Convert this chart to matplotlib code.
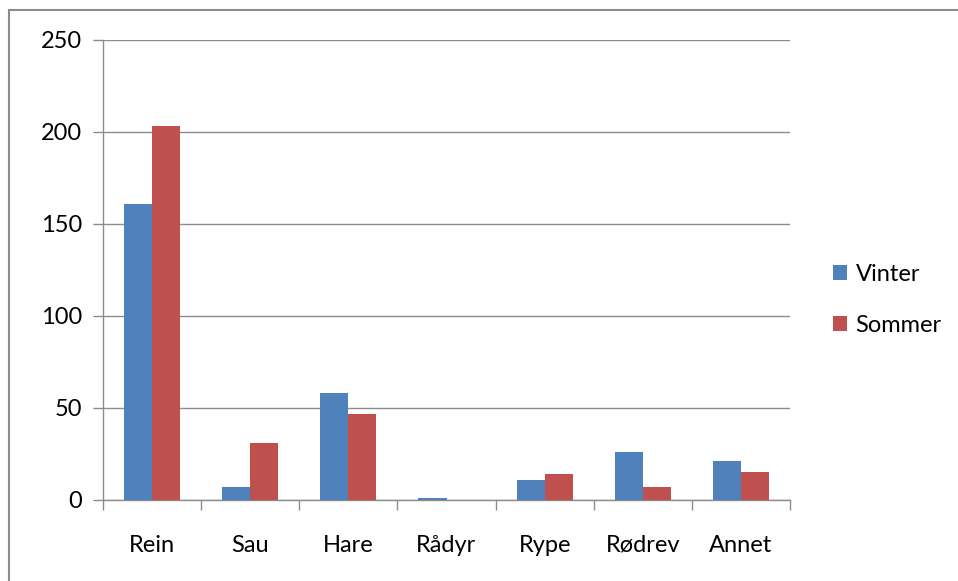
import numpy as np
import matplotlib
matplotlib.use("Agg")
import matplotlib.pyplot as plt
from matplotlib.patches import Rectangle

# Data
kategorier = ["Rein", "Sau", "Hare", "Rådyr", "Rype", "Rødrev", "Annet"]
vinter = [161, 7, 58, 1, 11, 26, 21]
sommer = [203, 31, 47, 0, 14, 7, 15]
y_ticks = [0, 50, 100, 150, 200, 250]

plt.rcParams['font.family'] = ['Lato', 'DejaVu Sans']
fs = 17

fig = plt.figure(figsize=(9.58, 5.81), dpi=100)
ax = fig.add_axes([103 / 958, 1 - 500 / 581, 687 / 958, 460 / 581])

# Outer chart border (right and bottom edges fall outside the picture)
fig.patches.append(Rectangle((9 / 958, -0.05), 1.1, 1.05 - 10 / 581, transform=fig.transFigure,
                             fill=False, edgecolor="#8c8c8c", linewidth=1.5))

x = np.arange(len(kategorier))
w = 1 / 3.5  # Excel style gap width 150%
ax.bar(x - w / 2, vinter, w, color="#4F81BD", label="Vinter", zorder=3)
ax.bar(x + w / 2, sommer, w, color="#C0504D", label="Sommer", zorder=3)

ax.set_xlim(-0.5, len(kategorier) - 0.5)
ax.set_ylim(0, 250)
ax.set_yticks(y_ticks)
ax.set_yticklabels([str(v) for v in y_ticks], fontsize=fs)
ax.yaxis.grid(True, color="#8c8c8c", linewidth=1, zorder=0)

ax.set_xticks(x)
ax.set_xticklabels(kategorier, fontsize=fs)
ax.set_xticks(np.arange(len(kategorier) + 1) - 0.5, minor=True)
ax.tick_params(axis="x", which="major", length=0, pad=25)
ax.tick_params(axis="x", which="minor", length=7, color="#8c8c8c", width=1)
ax.tick_params(axis="y", length=7, color="#8c8c8c", width=1, pad=8)

for side in ["top", "right"]:
    ax.spines[side].set_visible(False)
for side in ["left", "bottom"]:
    ax.spines[side].set_color("#8c8c8c")
    ax.spines[side].set_linewidth(1)

ax.legend(loc="center left", bbox_to_anchor=(812 / 958, 1 - 300 / 581), bbox_transform=fig.transFigure,
          frameon=False, fontsize=fs, handlelength=0.6, handleheight=0.6,
          handletextpad=0.35, labelspacing=1.25)

fig.savefig("out.png", dpi=100)
